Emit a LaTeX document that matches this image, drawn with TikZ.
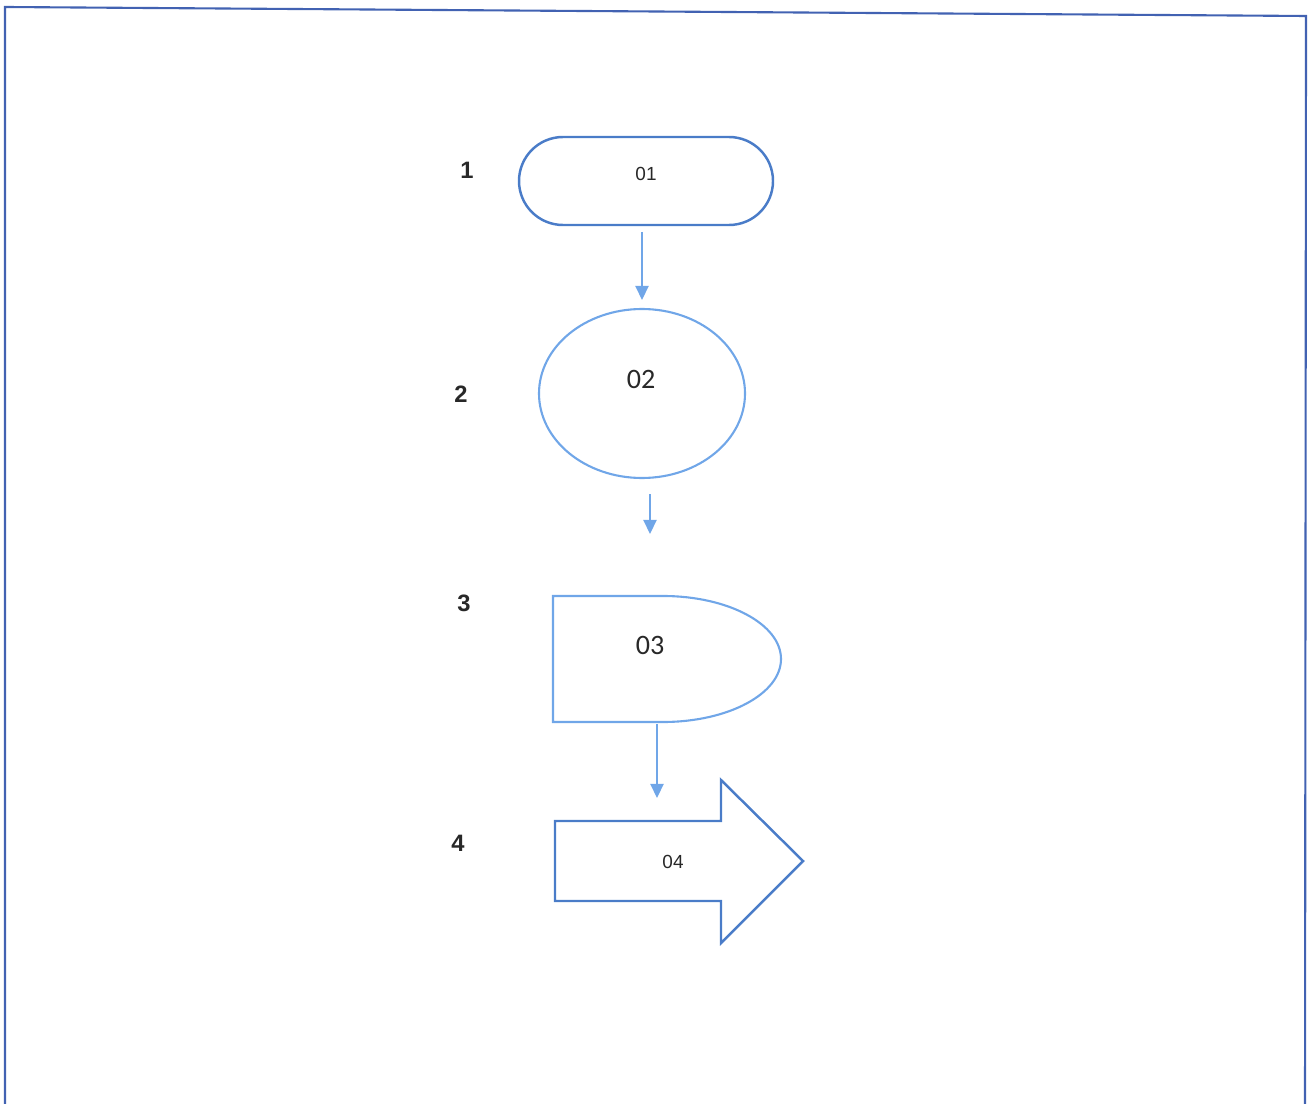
\documentclass[tikz,border=0pt]{standalone}
\usepackage{fontspec}
\setmainfont{Liberation Sans}
\newfontfamily\calfont{Carlito}
\usetikzlibrary{arrows.meta}
\definecolor{dkblue}{RGB}{74,124,200}
\definecolor{ltblue}{RGB}{112,166,232}
\definecolor{frameblue}{RGB}{66,98,178}
\definecolor{txt}{RGB}{40,40,40}
\tikzset{
  darkshape/.style={draw=dkblue, line width=1.4pt, line join=miter},
  lightshape/.style={draw=ltblue, line width=1.2pt},
  conn/.style={draw=ltblue, line width=0.9pt, -{Triangle[length=8pt,width=7.5pt]}},
  steplabel/.style={font=\bfseries\fontsize{13.5}{15}\selectfont, text=txt},
  smalltext/.style={font=\fontsize{10.8}{12}\selectfont, text=txt},
  bigtext/.style={font=\calfont\fontsize{16}{18}\selectfont, text=txt},
}
\begin{document}
\begin{tikzpicture}[x=0.02cm,y=-0.02cm]
\useasboundingbox (0,0) rectangle (1311,1104);
% frame
\draw[frameblue, line width=1.2pt] (5,1104) -- (5,7) -- (1306,16) -- (1305,1104);
% step labels
\node[steplabel] (l1) at (467,170) {1};
\node[steplabel] (l2) at (461,394) {2};
\node[steplabel] (l3) at (464,603) {3};
\node[steplabel] (l4) at (458,843) {4};
% shape 1: terminator
\draw[darkshape, rounded corners=0.88cm] (519,137) rectangle (773,225);
\node[smalltext] (s1) at (646,174) {01};
% shape 2: ellipse
\draw[lightshape] (642,393.5) ellipse [x radius=103, y radius=84.5];
\node[bigtext] (s2) at (641,379) {02};
% shape 3: delay
\draw[lightshape] (553,596) -- (663,596) arc[start angle=-90, end angle=90, x radius=118, y radius=63] -- (553,722) -- cycle;
\node[bigtext] (s3) at (650,645) {03};
% shape 4: block arrow
\draw[darkshape] (555,821) -- (721,821) -- (721,780) -- (803,861) -- (721,943) -- (721,901) -- (555,901) -- cycle;
\node[smalltext] (s4) at (673,862) {04};
% connectors
\coordinate (c1a) at (642,232);
\coordinate (c1b) at (642,300);
\coordinate (c2a) at (650,494);
\coordinate (c2b) at (650,534);
\coordinate (c3a) at (657,724);
\coordinate (c3b) at (657,798);
\draw[conn] (c1a) -- (c1b);
\draw[conn] (c2a) -- (c2b);
\draw[conn] (c3a) -- (c3b);
\end{tikzpicture}
\end{document}
